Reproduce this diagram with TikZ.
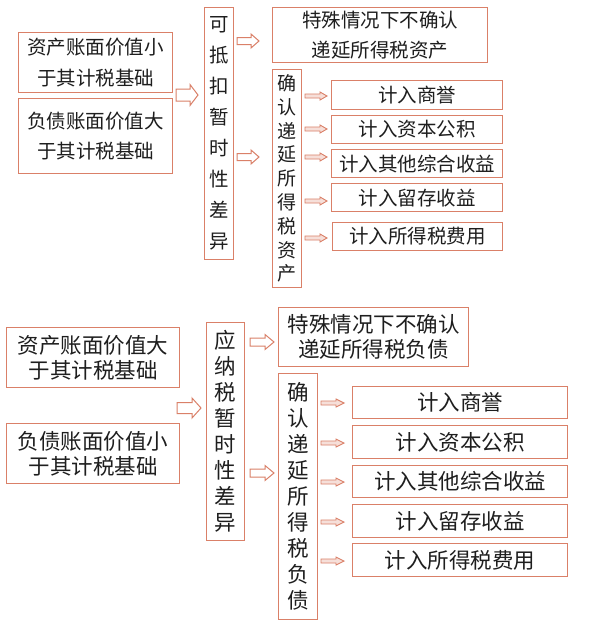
\documentclass[tikz,border=0pt]{standalone}
\usepackage{fontspec}
\setmainfont{Noto Sans CJK SC}
\definecolor{bordc}{RGB}{218,128,104}
\definecolor{txtc}{RGB}{30,30,30}
\tikzset{
  box/.style={draw=bordc, line width=1.2pt, inner sep=0pt, anchor=north west, text=txtc, align=center},
  topf/.style={font=\fontsize{19.5}{30.5}\selectfont},
  topv/.style={font=\fontsize{19.5}{31}\selectfont},
  topv2/.style={font=\fontsize{19}{23.8}\selectfont},
  botf/.style={font=\fontsize{21.5}{25.5}\selectfont},
  botv/.style={font=\fontsize{21.5}{26}\selectfont},
  arr/.style={draw=bordc, line width=1pt, fill=white, line join=miter},
  thinarr/.style={draw=bordc, line width=0.9pt, fill=bordc!25},
}
% box: name, x1, y1, x2, y2, style, text
\newcommand\bx[7]{\node[box,#6, minimum width=#4pt-#2pt, minimum height=#5pt-#3pt] (#1) at (#2,#3) {#7};}
% arrow: style, x start, head start, tip, y, shaft half, head half
\newcommand\harr[7]{\draw[#1] (#2,#5-#6) -- (#3,#5-#6) -- (#3,#5-#7) -- (#4,#5) -- (#3,#5+#7) -- (#3,#5+#6) -- (#2,#5+#6) -- cycle;}
\begin{document}
\begin{tikzpicture}[x=1pt,y=-1pt]
\useasboundingbox[fill=white] (0,0) rectangle (592,629);
% ---------- top ----------
\bx{a1}{18}{32}{172}{92}{topf}{资产账面价值小\\于其计税基础}
\bx{a2}{18}{98}{172}{173}{topf}{负债账面价值大\\于其计税基础}
\bx{b}{204}{7}{233}{259}{topv}{可\\抵\\扣\\暂\\时\\性\\差\\异}
\bx{c1}{272}{7}{487}{62}{topf}{特殊情况下不确认\\递延所得税资产}
\bx{c2}{272}{69}{301}{287}{topv2}{确\\认\\递\\延\\所\\得\\税\\资\\产}
\bx{d1}{331}{80}{502}{109}{topf}{计入商誉}
\bx{d2}{331}{115}{502}{143}{topf}{计入资本公积}
\bx{d3}{331}{149}{502}{177}{topf}{计入其他综合收益}
\bx{d4}{331}{183}{502}{211}{topf}{计入留存收益}
\bx{d5}{332}{222}{502}{250}{topf}{计入所得税费用}
\harr{arr}{176}{190}{198}{95}{6}{10.5}
\harr{arr}{237}{251}{259}{41}{3.5}{7}
\harr{arr}{237}{251}{259}{157}{3.5}{7}
\foreach \yy in {96,129,157,201,238}{\harr{thinarr}{305}{320}{327}{\yy}{2}{4}}
% ---------- bottom ----------
\bx{e1}{6}{327}{179}{387}{botf}{资产账面价值大\\于其计税基础}
\bx{e2}{6}{423}{179}{483}{botf}{负债账面价值小\\于其计税基础}
\bx{f}{206}{322}{244}{540}{botv}{应\\纳\\税\\暂\\时\\性\\差\\异}
\bx{g1}{278}{307}{468}{366}{botf}{特殊情况下不确认\\递延所得税负债}
\bx{g2}{278}{373}{317}{619}{botv}{确\\认\\递\\延\\所\\得\\税\\负\\债}
\bx{h1}{352}{386}{567}{418}{botf}{计入商誉}
\bx{h2}{352}{425}{567}{458}{botf}{计入资本公积}
\bx{h3}{352}{465}{567}{497}{botf}{计入其他综合收益}
\bx{h4}{352}{504}{567}{537}{botf}{计入留存收益}
\bx{h5}{352}{543}{567}{576}{botf}{计入所得税费用}
\harr{arr}{177}{192}{201}{408}{5.5}{10}
\harr{arr}{250}{265}{274}{342}{4}{7.5}
\harr{arr}{250}{265}{274}{473}{4}{7.5}
\foreach \yy in {403,443,482,522,561}{\harr{thinarr}{321}{336}{344}{\yy}{2}{4}}
\end{tikzpicture}
\end{document}
